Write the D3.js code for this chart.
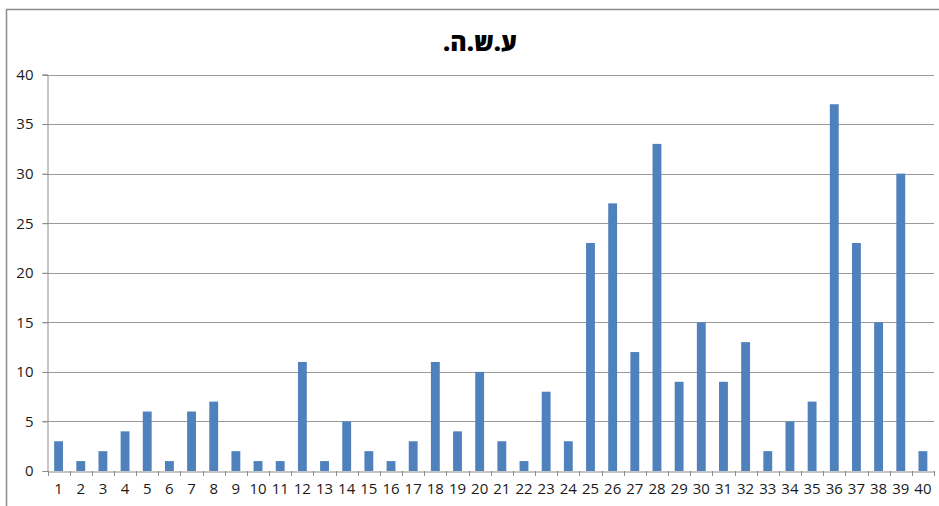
<!DOCTYPE html>
<html>
<head>
<meta charset="utf-8">
<script src="https://cdn.jsdelivr.net/npm/d3@7"></script>
<style>
  body { margin: 0; background: #fff; }
</style>
</head>
<body>
<div id="chart"></div>
<script>
// Data
const title = "ע.ש.ה.";
const categories = d3.range(1, 41).map(String);
const values = [3, 1, 2, 4, 6, 1, 6, 7, 2, 1, 1, 11, 1, 5, 2, 1, 3, 11, 4, 10,
                3, 1, 8, 3, 23, 27, 12, 33, 9, 15, 9, 13, 2, 5, 7, 37, 23, 15, 30, 2];
const yTicks = [0, 5, 10, 15, 20, 25, 30, 35, 40];

// Dimensions
const width = 939, height = 506;
const plotLeft = 47.5, plotRight = 934, plotTop = 74.5, plotBottom = 471;

const svg = d3.select("#chart")
  .append("svg")
  .attr("width", width)
  .attr("height", height);

// Chart frame (runs off the right/bottom edge)
svg.append("rect")
  .attr("x", 6.5)
  .attr("y", 9.5)
  .attr("width", 960)
  .attr("height", 520)
  .attr("fill", "#fff")
  .attr("stroke", "#8c8c8c")
  .attr("stroke-width", 1.5);

// Scales
const x = d3.scaleBand()
  .domain(categories)
  .range([plotLeft, plotRight])
  .paddingInner(0.6)
  .paddingOuter(0.3);

const y = d3.scaleLinear()
  .domain([0, 40])
  .range([plotBottom, plotTop]);

// Gridlines
svg.append("g")
  .selectAll("line")
  .data(yTicks.filter(d => d > 0))
  .join("line")
  .attr("x1", plotLeft - 5)
  .attr("x2", plotRight)
  .attr("y1", d => Math.round(y(d)) + 0.5)
  .attr("y2", d => Math.round(y(d)) + 0.5)
  .attr("stroke", "#9a9a9a")
  .attr("stroke-width", 1);

// Y axis
const yAxis = svg.append("g")
  .attr("transform", `translate(${plotLeft},0)`)
  .call(d3.axisLeft(y).tickValues(yTicks).tickSize(5).tickPadding(9));
yAxis.select(".domain").attr("stroke", "#8c8c8c");
yAxis.selectAll(".tick line").attr("stroke", "#8c8c8c");
yAxis.selectAll("text")
  .style("font-family", "'Open Sans', sans-serif")
  .style("font-size", "15px")
  .attr("fill", "#1a1a1a");

// Bars
svg.append("g")
  .selectAll(".bar")
  .data(values)
  .join("rect")
  .attr("class", "bar")
  .attr("x", (d, i) => x(categories[i]))
  .attr("y", d => y(d))
  .attr("width", x.bandwidth())
  .attr("height", d => plotBottom - y(d))
  .style("fill", "#4f81bd");

// X axis
const xAxis = svg.append("g")
  .attr("transform", `translate(0,${plotBottom + 0.5})`)
  .call(d3.axisBottom(x).tickSize(0).tickPadding(12));
xAxis.select(".domain").attr("stroke", "#8c8c8c");
xAxis.selectAll("text")
  .style("font-family", "'Open Sans', sans-serif")
  .style("font-size", "15px")
  .attr("fill", "#1a1a1a");

// Tick marks between categories
const step = x.step();
svg.append("g")
  .selectAll("line")
  .data(d3.range(categories.length + 1))
  .join("line")
  .attr("x1", i => Math.round(plotLeft + i * step) + 0.5)
  .attr("x2", i => Math.round(plotLeft + i * step) + 0.5)
  .attr("y1", plotBottom)
  .attr("y2", plotBottom + 5)
  .attr("stroke", "#8c8c8c");

// Title
svg.append("text")
  .attr("x", 480)
  .attr("y", 51)
  .attr("direction", "rtl")
  .style("text-anchor", "middle")
  .style("font-family", "'Open Sans', sans-serif")
  .style("font-weight", "800")
  .style("font-size", "25px")
  .text(title);
</script>
</body>
</html>
